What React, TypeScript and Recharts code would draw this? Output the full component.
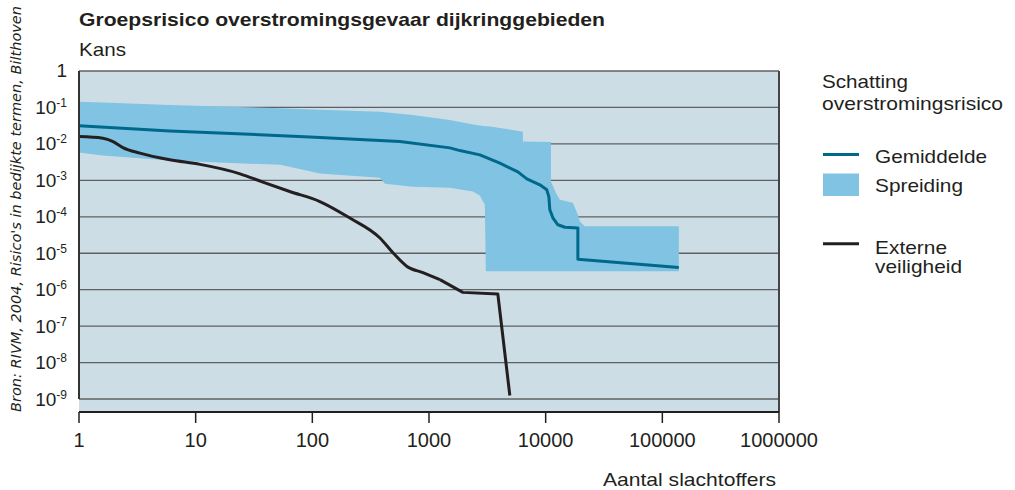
import React from 'react'
import {
  ComposedChart, Area, Line, XAxis, YAxis, CartesianGrid, ReferenceLine,
} from 'recharts'

// Band (spreiding): x = number of victims, low/high = probability
const bandX = [1, 1.6, 6, 53, 78, 116, 380, 419, 728, 1510, 2380, 2730, 3010, 3070, 3330, 4050, 6380, 6380, 11090, 11090, 12220, 13240, 17100, 18880, 19630, 21660, 138500]
const bandHigh = [0.144, 0.137, 0.117, 0.0951, 0.091, 0.0871, 0.0767, 0.0743, 0.0623, 0.0455, 0.0342, 0.0321, 0.0307, 0.0306, 0.0298, 0.0274, 0.0217, 0.01156, 0.01135, 9.27e-4, 4.55e-4, 2.92e-4, 2.42e-4, 1.135e-4, 7.43e-5, 5.49e-5, 5.49e-5]
const bandLow = [5.78e-3, 4.78e-3, 3.49e-3, 2.66e-3, 2.05e-3, 1.55e-3, 1.17e-3, 8.02e-4, 6.64e-4, 6.23e-4, 4.93e-4, 3.76e-4, 2.13e-4, 3.21e-6, 3.21e-6, 3.21e-6, 3.21e-6, 3.21e-6, 3.21e-6, 3.21e-6, 3.21e-6, 3.21e-6, 3.21e-6, 3.21e-6, 3.21e-6, 3.21e-6, 3.21e-6]

// Gemiddelde
const meanX = [1, 6, 95, 563, 1510, 1840, 2730, 4050, 5780, 6900, 8920, 10230, 10650, 10860, 11530, 12730, 14620, 18880, 18880, 138500]
const meanY = [0.0317, 0.0227, 0.01556, 0.01156, 7.77e-3, 6.55e-3, 5.0e-3, 2.96e-3, 1.71e-3, 1.1e-3, 7.53e-4, 5.49e-4, 3.53e-4, 1.556e-4, 9.39e-5, 6.04e-5, 5.15e-5, 4.9e-5, 6.85e-6, 4.08e-6]

// Externe veiligheid
const extX = [1, 1.6, 1.96, 2.38, 3.33, 6, 10.9, 24, 37.7, 64, 116, 210, 380, 491, 647, 887, 1240, 1950, 3890, 4930]
const extY = [0.01585, 0.01432, 0.01156, 7.92e-3, 5.56e-3, 3.65e-3, 2.74e-3, 1.51e-3, 8.93e-4, 4.93e-4, 2.62e-4, 9.21e-5, 2.61e-5, 1.03e-5, 4.35e-6, 2.92e-6, 1.88e-6, 8.43e-7, 7.62e-7, 1.25e-9]

const xTicks = [1, 10, 100, 1000, 10000, 100000, 1000000]
const yTicks = [1, 1e-1, 1e-2, 1e-3, 1e-4, 1e-5, 1e-6, 1e-7, 1e-8, 1e-9]

const INK = '#231f20'
const BG = '#cddde5'
const BAND = '#80c3e2'
const MEAN = '#00688b'
const GRID = '#5f6062'
const FONT = '"Liberation Sans", Arial, sans-serif'

const bandData = bandX.map((x, i) => ({ x, range: [bandLow[i], bandHigh[i]] }))
const meanData = meanX.map((x, i) => ({ x, y: meanY[i] }))
const extData = extX.map((x, i) => ({ x, y: extY[i] }))
// smooth part of the curve, then the straight tail with the sharp corners
const extSmooth = extData.slice(0, 17)
const extTail = extData.slice(16)

const YTick = ({ x, y, payload }: { x?: number; y?: number; payload?: { value: number } }) => {
  const exp = Math.round(Math.log10(payload?.value ?? 1))
  if (exp === 0) {
    return <text x={x} y={(y ?? 0) + 6} textAnchor="end" fontSize={19} fontFamily={FONT} fill={INK}>1</text>
  }
  return (
    <text x={x} y={(y ?? 0) + 6.5} textAnchor="end" fontSize={19} fontFamily={FONT} fill={INK}>
      10<tspan fontSize={12} dy={-7}>{exp}</tspan>
    </text>
  )
}

export default function App() {
  return (
    <div style={{ position: 'absolute', left: 0, top: 0, width: 1015, height: 490, background: '#fff' }}>
      <ComposedChart width={1015} height={490} margin={{ top: 71, right: 236, bottom: 0, left: 0 }}>
        <CartesianGrid vertical={false} fill={BG} fillOpacity={1} stroke={GRID} strokeWidth={1.3} />
        <XAxis
          dataKey="x" type="number" scale="log" domain={[1, 1000000]} ticks={xTicks}
          allowDataOverflow height={78} tickSize={11} tickMargin={10}
          axisLine={{ stroke: INK, strokeWidth: 2 }} tickLine={{ stroke: INK, strokeWidth: 1.5 }}
          tick={{ fontSize: 20, fontFamily: FONT, fill: INK }}
        />
        <YAxis
          type="number" scale="log" domain={[4.4e-10, 1]} ticks={yTicks} allowDataOverflow
          width={79} axisLine={false} tickLine={false} tickSize={0} tickMargin={12}
          tick={<YTick />}
        />
        <Area data={bandData} dataKey="range" type="linear" stroke="none" fill={BAND} fillOpacity={1} isAnimationActive={false} dot={false} activeDot={false} />
        <Line data={extSmooth} dataKey="y" type="monotone" stroke={INK} strokeWidth={3} dot={false} activeDot={false} isAnimationActive={false} />
        <Line data={extTail} dataKey="y" type="linear" stroke={INK} strokeWidth={3} strokeLinejoin="round" dot={false} activeDot={false} isAnimationActive={false} />
        <Line data={meanData} dataKey="y" type="linear" stroke={MEAN} strokeWidth={3} strokeLinejoin="round" dot={false} activeDot={false} isAnimationActive={false} />
        <ReferenceLine segment={[{ x: 1, y: 1e-9 }, { x: 1, y: 1 }]} stroke="#333" strokeWidth={2} />
        <ReferenceLine x={1000000} stroke="#444" strokeWidth={2} />
      </ComposedChart>

      <svg width={1015} height={490} style={{ position: 'absolute', left: 0, top: 0, pointerEvents: 'none' }}>
        <g fontFamily={FONT} fill={INK} fontSize={19}>
          <text x={79} y={26} fontWeight="bold" textLength={526} lengthAdjust="spacingAndGlyphs">Groepsrisico overstromingsgevaar dijkringgebieden</text>
          <text x={79} y={56} textLength={47} lengthAdjust="spacingAndGlyphs">Kans</text>
          <text x={603} y={486} textLength={173} lengthAdjust="spacingAndGlyphs">Aantal slachtoffers</text>

          <text x={822} y={88} textLength={86} lengthAdjust="spacingAndGlyphs">Schatting</text>
          <text x={822} y={110} textLength={181} lengthAdjust="spacingAndGlyphs">overstromingsrisico</text>
          <line x1={823} x2={859} y1={154.5} y2={154.5} stroke={MEAN} strokeWidth={3} />
          <text x={875} y={163} textLength={112} lengthAdjust="spacingAndGlyphs">Gemiddelde</text>
          <rect x={823} y={173.5} width={36} height={22.5} fill={BAND} />
          <text x={875} y={192} textLength={88} lengthAdjust="spacingAndGlyphs">Spreiding</text>
          <line x1={823} x2={859} y1={243.7} y2={243.7} stroke={INK} strokeWidth={3} />
          <text x={875} y={254} textLength={72} lengthAdjust="spacingAndGlyphs">Externe</text>
          <text x={875} y={273} textLength={87} lengthAdjust="spacingAndGlyphs">veiligheid</text>
        </g>
        <text
          transform="translate(21,412) rotate(-90)" fontFamily='"DejaVu Sans", Verdana, sans-serif'
          fontStyle="italic" fontSize={14.5} fill={INK} textLength={406} lengthAdjust="spacingAndGlyphs"
        >
          Bron: RIVM, 2004, Risico's in bedijkte termen, Bilthoven
        </text>
      </svg>
    </div>
  )
}
